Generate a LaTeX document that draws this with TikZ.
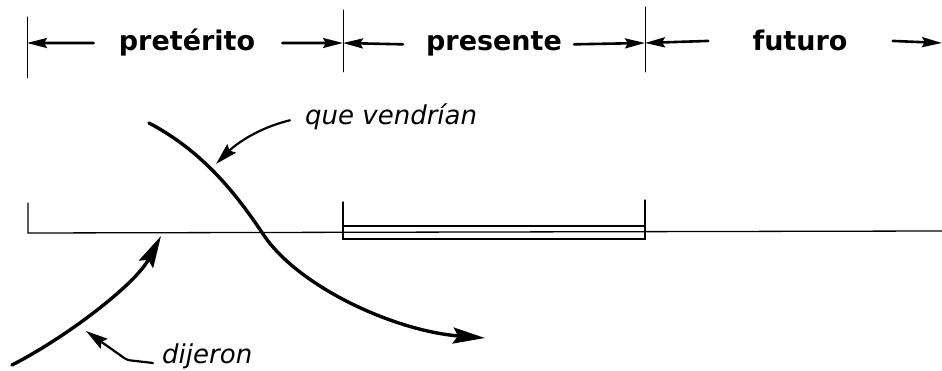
\documentclass[tikz,border=0pt]{standalone}
\usepackage{fontspec}
\setsansfont{DejaVu Sans}
\usepackage{tikz}
\usetikzlibrary{arrows.meta}

\begin{document}
\begin{tikzpicture}[x=1pt, y=-1pt, line cap=round,
    etiq/.style={font=\sffamily\bfseries\fontsize{27}{31}\selectfont, inner sep=0pt, anchor=base},
    nota/.style={font=\sffamily\itshape\fontsize{26}{30}\selectfont, inner sep=0pt, anchor=base west},
    marca/.style={line width=1pt},
    eje/.style={line width=1.3pt},
    tramo/.style={line width=2.6pt, -{Stealth[length=20pt,width=10pt,inset=3pt]}},
    curva/.style={line width=3.4pt, -{Stealth[length=32pt,width=16pt,inset=5pt]}},
    flecha/.style={line width=2.2pt, -{Stealth[length=22pt,width=12pt,inset=3pt]}}]

  \useasboundingbox (0,0) rectangle (942,371);

  % marcas de los tramos
  \draw[marca] (27,17) -- (27,78);
  \draw[marca] (343,10) -- (343,72);
  \draw[marca] (645,7) -- (645,72);

  \coordinate (tA) at (27,43);
  \coordinate (tB) at (343,43);
  \coordinate (tC) at (645,43);
  \coordinate (tD) at (942,43);

  % rotulos
  \node[etiq] (pret) at (187,51) {pretérito};
  \node[etiq] (pres) at (494,51) {presente};
  \node[etiq] (fut) at (800,51) {futuro};

  % flechas de los tramos
  \draw[tramo] ([xshift=-25pt]pret.west) -- (tA);
  \draw[tramo] ([xshift=27pt]pret.east) -- (tB);
  \draw[tramo] ([xshift=-23pt]pres.west) -- (tB);
  \draw[tramo] ([xshift=12pt]pres.east) -- (tC);
  \draw[tramo] ([xshift=-44pt]fut.west) -- (tC);
  \draw[tramo] ([xshift=45pt]fut.east) -- (tD);

  % eje del tiempo
  \draw[eje] (28,203) -- (28,233) -- (942,231);
  \draw[eje] (343,202) -- (343,239) -- (645,239) -- (645,200);
  \draw[eje] (343,226) -- (645,226);

  % curvas
  \coordinate (qvt) at (216,164);
  \coordinate (cruce) at (263,234);
  \coordinate (dijt) at (161,236);
  \coordinate (dijp) at (86,331);

  \draw[curva] (149,123) .. controls (200,150) and (233,189) .. (cruce)
    .. controls (298,287) and (395,331) .. (485,338);
  \draw[curva] (12,365) .. controls (65,338) and (135,285) .. (dijt);

  % notas
  \node[nota] (qv) at (305,125) {que vendrían};
  \node[nota] (dij) at (162,363) {dijeron};

  \draw[flecha] ([xshift=-15pt,yshift=-3pt]qv.west) .. controls (258,128) and (236,144) .. (qvt);
  \draw[flecha, rounded corners=3pt] ([xshift=-9pt]dij.base west) -- ++(-26,-3) -- (dijp);

\end{tikzpicture}
\end{document}
